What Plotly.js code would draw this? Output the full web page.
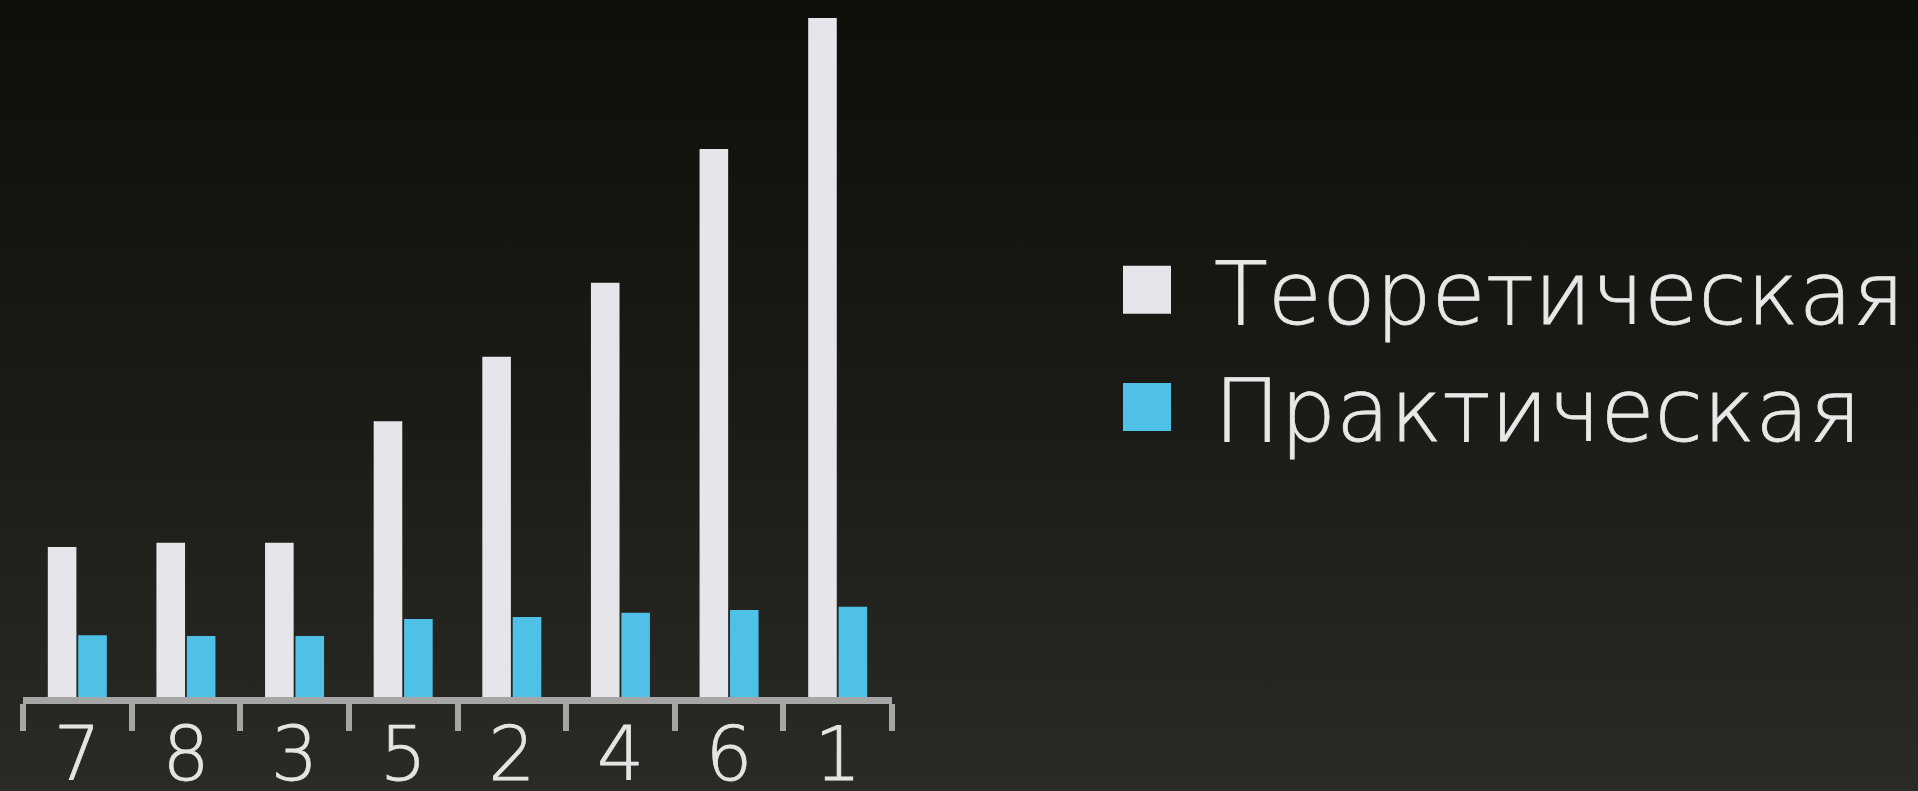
<!DOCTYPE html>
<html>
<head>
<meta charset="utf-8">
<script src="https://cdn.plot.ly/plotly-3.0.1.min.js"></script>
<style>
  html, body { margin: 0; padding: 0; width: 1918px; height: 791px; overflow: hidden;
    background: linear-gradient(to bottom, #0d0f0b 0%, #1a1b17 50%, #2a2a26 100%); }
  #chart { width: 1918px; height: 791px; }
  #chart .legendtext, #chart .xtick text { stroke: #e6e6e6; stroke-width: 0.8px; }
</style>
</head>
<body>
<div id="chart"></div>
<script>
const categories = ['7', '8', '3', '5', '2', '4', '6', '1'];
const theoretical = [22.1, 22.7, 22.7, 40.6, 50.1, 61.0, 80.7, 100];
const practical = [9.1, 9.0, 9.0, 11.5, 11.8, 12.4, 12.8, 13.3];
const seriesNames = ['Теоретическая', 'Практическая'];

const traces = [
  { type: 'bar', name: seriesNames[0], x: categories, y: theoretical,
    marker: { color: '#e6e6ea', line: { width: 0 } }, hoverinfo: 'skip' },
  { type: 'bar', name: seriesNames[1], x: categories, y: practical,
    marker: { color: '#4fc1e6', line: { width: 0 } }, hoverinfo: 'skip' }
];

const layout = {
  width: 1918, height: 791,
  paper_bgcolor: 'rgba(0,0,0,0)', plot_bgcolor: 'rgba(0,0,0,0)',
  margin: { l: 23, r: 1026, t: 18, b: 94 },
  barmode: 'group', bargap: 0.44, bargroupgap: 0.06,
  font: { family: 'DejaVu Sans', color: '#e4e4e4' },
  xaxis: {
    type: 'category', range: [-0.5, 7.5], fixedrange: true,
    showline: true, linecolor: '#a6a6a6', linewidth: 7,
    ticks: 'outside', tickson: 'boundaries', ticklen: 27, tickwidth: 6, tickcolor: '#a6a6a6',
    ticklabelstandoff: -13,
    tickfont: { family: 'DejaVu Sans', size: 74, color: '#e4e4e4', weight: 200 },
    showgrid: false, zeroline: false
  },
  yaxis: {
    range: [0, 100], visible: false, fixedrange: true, showgrid: false, zeroline: false
  },
  showlegend: true,
  legend: {
    xref: 'container', yref: 'container',
    x: 1080 / 1918, xanchor: 'left',
    y: 1 - 226 / 791, yanchor: 'top',
    bgcolor: 'rgba(0,0,0,0)', borderwidth: 0,
    itemwidth: 124, traceorder: 'normal',
    font: { family: 'DejaVu Sans', size: 88, color: '#e8e8e8', weight: 200 }
  }
};

Plotly.newPlot('chart', traces, layout, { staticPlot: true, displayModeBar: false }).then(function (gd) {
  // enlarge the legend swatches to match the reference's big squares
  gd.querySelectorAll('.legend .legendpoints path').forEach(function (p) {
    p.setAttribute('d', 'M24,24H-24V-24H24Z');
  });
});
</script>
</body>
</html>
